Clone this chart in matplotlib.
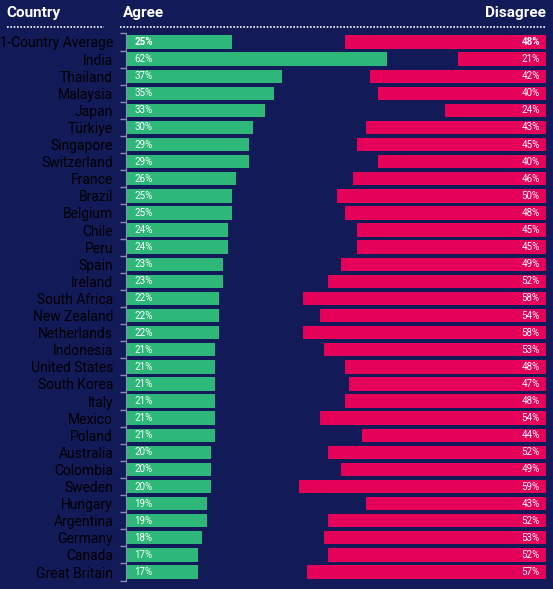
import matplotlib
matplotlib.use("Agg")
import matplotlib.pyplot as plt
import numpy as np

countries = ["31-Country Average","India","Thailand","Malaysia","Japan","Türkiye","Singapore","Switzerland","France","Brazil","Belgium","Chile","Peru","Spain","Ireland","South Africa","New Zealand","Netherlands","Indonesia","United States","South Korea","Italy","Mexico","Poland","Australia","Colombia","Sweden","Hungary","Argentina","Germany","Canada","Great Britain"]
agree = [25,62,37,35,33,30,29,29,26,25,25,24,24,23,23,22,22,22,21,21,21,21,21,21,20,20,20,19,19,18,17,17]
disagree = [48,21,42,40,24,43,45,40,46,50,48,45,45,49,52,58,54,58,53,48,47,48,54,44,52,49,59,43,52,53,52,57]

BG = "#131a58"; GREEN = "#2db87a"; PINK = "#e5005a"
plt.rcParams['font.family'] = ['Roboto', 'DejaVu Sans']
W, H = 553, 589
fig = plt.figure(figsize=(W/100, H/100), dpi=100, facecolor=BG)
n = len(countries)
step = (572 - 42) / (n - 1)
top = 42 - step/2
bot = top + step*n
ax = fig.add_axes([127/W, 1-bot/H, (546-127)/W, (bot-top)/H])
ax.set_facecolor(BG)
y = np.arange(n)
ax.barh(y, agree, height=0.78, color=GREEN, left=0)
ax.barh(y, disagree, height=0.78, color=PINK, left=[100-d for d in disagree])
ax.set_xlim(0, 100)
ax.set_ylim(n-0.5, -0.5)
for i in range(n):
    fw = 'bold' if i == 0 else 'normal'
    ax.text(1.8, i, f"{agree[i]}%", color='white', fontsize=7, va='center', ha='left', fontweight=fw)
    ax.text(98.5, i, f"{disagree[i]}%", color='white', fontsize=7, va='center', ha='right', fontweight=fw)
ax.set_yticks(y)
ax.set_yticklabels(countries, color='white', fontsize=7.5)
ax.tick_params(axis='y', length=0, pad=9)
ax.set_yticks(np.arange(-0.5, n, 1), minor=True)
ax.tick_params(axis='y', which='minor', length=4, color='#8a8fb0', width=1)
ax.set_xticks([])
for s in ['top','right','bottom']:
    ax.spines[s].set_visible(False)
ax.spines['left'].set_color('#8a8fb0')
ax.spines['left'].set_position(('outward', 1))

fig.text(6/W, 1-13/H, "Country", color='white', fontsize=11, fontweight='bold', va='center', ha='left')
fig.text(123/W, 1-13/H, "Agree", color='white', fontsize=11, fontweight='bold', va='center', ha='left')
fig.text(546/W, 1-13/H, "Disagree", color='white', fontsize=11, fontweight='bold', va='center', ha='right')
yl = 1-27/H
fig.add_artist(plt.Line2D([7/W, 104/W], [yl, yl], color='white', lw=1.2, ls=(0, (1, 1))))
fig.add_artist(plt.Line2D([120/W, 546/W], [yl, yl], color='white', lw=1.2, ls=(0, (1, 1))))
fig.savefig("out.png", dpi=100, facecolor=BG)
